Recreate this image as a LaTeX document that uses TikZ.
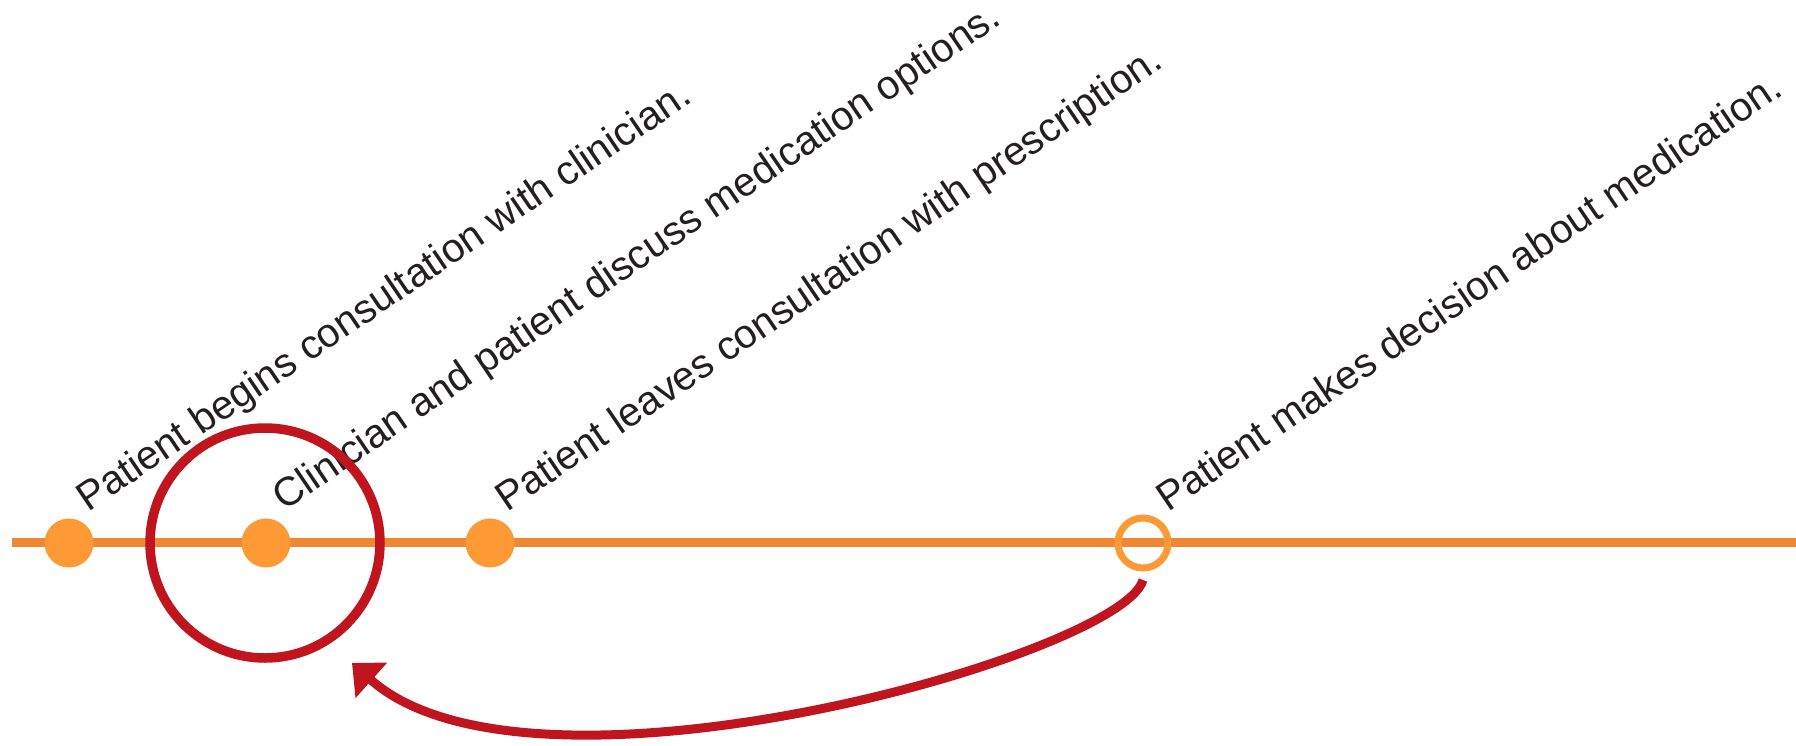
\documentclass[tikz,border=0pt]{standalone}
\usepackage{fontspec}
\setmainfont{Liberation Sans}
\usetikzlibrary{arrows.meta}
\definecolor{lineorange}{HTML}{EF8733}
\definecolor{dotorange}{HTML}{FD9A35}
\definecolor{ringred}{HTML}{C0141F}
\definecolor{txt}{HTML}{231F20}
\tikzset{
  dotnode/.style={circle,fill=dotorange,inner sep=0pt,minimum size=49pt},
  opendot/.style={circle,draw=dotorange,line width=7pt,inner sep=0pt,minimum size=50pt},
  lbl/.style={rotate=34.2,anchor=base west,inner sep=0pt,text=txt,font=\fontsize{40.4}{48}\selectfont},
  timeline/.style={draw=lineorange,line width=9pt},
  ringstyle/.style={circle,draw=ringred,line width=9.5pt,inner sep=0pt,minimum size=230pt},
  backarrow/.style={draw=ringred,line width=9pt,-{Triangle[length=26pt,width=46pt]}}
}
\begin{document}
\begin{tikzpicture}[x=1pt,y=-1pt]
\useasboundingbox (0,0) rectangle (1796,745);
\coordinate (lstart) at (12,542);
\coordinate (lend) at (1796,542);
\draw[timeline] (lstart) -- (lend);
\node[dotnode] (d1) at (69,543) {};
\node[dotnode] (d2) at (266,543) {};
\node[dotnode] (d3) at (490,543) {};
\node[opendot] (d4) at (1143,543) {};
\node[lbl] (t1) at (88,513) {Patient begins consultation with clinician.};
\node[lbl] (t2) at (284,512) {Clinician and patient discuss medication options.};
\node[lbl] (t3) at (507,513) {Patient leaves consultation with prescription.};
\node[lbl] (t4) at (1168,513) {Patient makes decision about medication.};
\node[ringstyle] (ring) at (265,543) {};
\coordinate (astart) at (1143,580);
\coordinate (atip) at (352,663);
\draw[backarrow] (astart) .. controls (1122,655) and (530,822) .. (atip);
\end{tikzpicture}
\end{document}
